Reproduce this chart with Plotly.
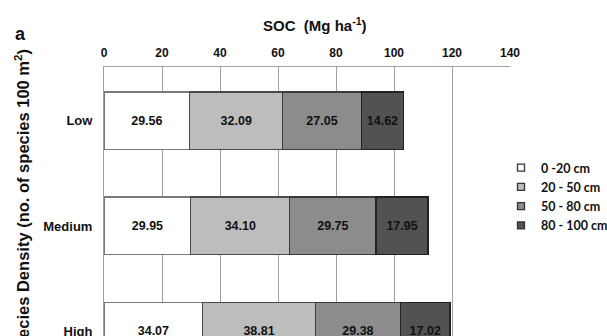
import plotly.graph_objects as go

categories = ["Low", "Medium", "High"]
depths = ["0 -20 cm", "20 - 50 cm", "50 - 80 cm", "80 - 100 cm"]
soc_0_20 = [29.56, 29.95, 34.07]
soc_20_50 = [32.09, 34.10, 38.81]
soc_50_80 = [27.05, 29.75, 29.38]
soc_80_100 = [14.62, 17.95, 17.02]
x_ticks = [0, 20, 40, 60, 80, 100, 120, 140]

series = [soc_0_20, soc_20_50, soc_50_80, soc_80_100]
fills = ["#ffffff", "#bdbdbd", "#8c8c8c", "#525252"]
borders = ["#7a7a7a", "#4a4a4a", "#3a3a3a", "#222222"]

FONT = "Liberation Sans, Arial, sans-serif"
W, H = 607, 336
L, R, T, B = 104, 97, 67, 0
pw, ph = W - L - R, H - T - B

def px(x):
    return (x - L) / pw

def py(y):
    return (H - B - y) / ph

fig = go.Figure()
for name, vals, fc, bc in zip(depths, series, fills, borders):
    fig.add_trace(go.Bar(
        y=categories, x=vals, orientation="h", name=name,
        marker=dict(color=fc, line=dict(color=bc, width=1.2)),
        width=0.55,
        text=[f"{v:.2f}" for v in vals],
        textposition="inside", insidetextanchor="middle", textangle=0,
        constraintext="none",
        textfont=dict(family=FONT, size=12.5, color="#111111", weight="bold"),
        showlegend=False,
    ))

for name, fc in zip(depths, fills):
    fig.add_trace(go.Scatter(
        x=[None], y=[None], mode="markers", name=name,
        marker=dict(symbol="square", size=7, color=fc,
                    line=dict(color="#333333", width=1.3)),
        showlegend=True,
    ))

fig.update_layout(
    width=W, height=H,
    margin=dict(l=L, r=R, t=T, b=B, pad=0, autoexpand=False),
    barmode="stack",
    paper_bgcolor="white", plot_bgcolor="white",
    font=dict(family=FONT, size=12, color="#111111"),
    xaxis=dict(
        side="top", range=[0, 140], tickvals=x_ticks,
        ticktext=[str(v) for v in x_ticks],
        showgrid=True, gridcolor="#a0a0a0", gridwidth=1,
        showline=True, linecolor="#a0a0a0", linewidth=1,
        ticks="", ticklabelstandoff=4,
        tickfont=dict(family=FONT, size=12, color="#111111", weight="bold"),
        zeroline=False, fixedrange=True, automargin=False,
    ),
    yaxis=dict(
        type="category", categoryorder="array", categoryarray=categories,
        range=[2.047, -0.513],
        showgrid=False, showline=True, linecolor="#a0a0a0", linewidth=1,
        ticks="", ticklabelstandoff=8,
        tickfont=dict(family=FONT, size=13, color="#111111", weight="bold"),
        fixedrange=True, automargin=False,
    ),
    legend=dict(
        x=px(501), y=py(153), xanchor="left", yanchor="top",
        font=dict(family="Lato, " + FONT, size=12.5, color="#111111", weight="bold"),
        itemwidth=30, tracegroupgap=0, bgcolor="rgba(0,0,0,0)",
        traceorder="normal",
    ),
    showlegend=True,
)

fig.add_annotation(
    text="SOC  (Mg ha<sup>-1</sup>)", xref="paper", yref="paper",
    x=px(315), y=py(24), xanchor="center", yanchor="middle",
    showarrow=False, font=dict(family=FONT, size=15, color="#111111", weight="bold"),
)
fig.add_annotation(
    text="a", xref="paper", yref="paper",
    x=px(20), y=py(34), xanchor="center", yanchor="middle",
    showarrow=False, font=dict(family=FONT, size=18, color="#111111", weight="bold"),
)
fig.add_annotation(
    text="Species Density (no. of species 100 m<sup>2</sup>)",
    xref="paper", yref="paper", textangle=-90,
    x=px(22), y=py(47), xanchor="center", yanchor="top",
    showarrow=False, font=dict(family=FONT, size=16.5, color="#111111", weight="bold"),
)

fig.write_html(
    "out.html",
    config={"displayModeBar": False},
    post_script="document.body.style.margin='0px';document.body.style.overflow='hidden';",
)
